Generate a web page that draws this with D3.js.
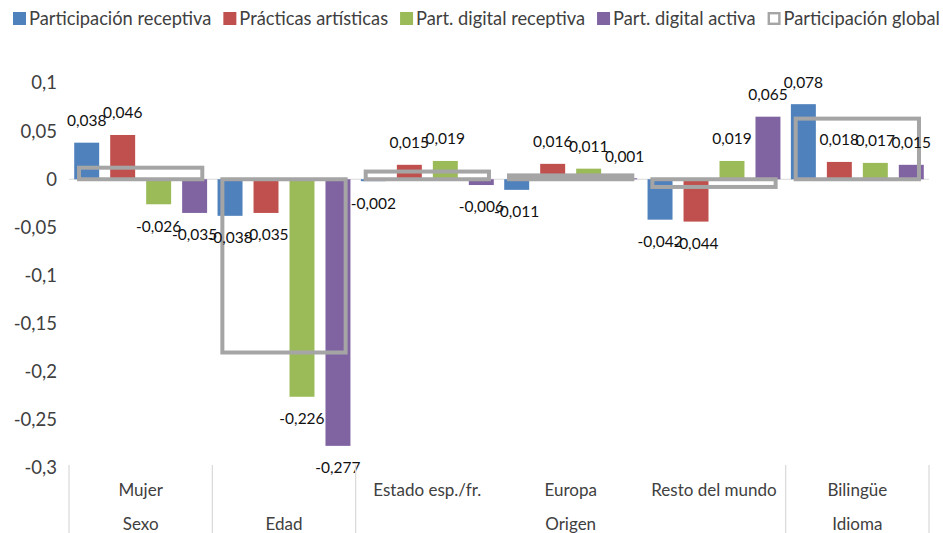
<!DOCTYPE html>
<html>
<head>
<meta charset="utf-8">
<script src="https://cdn.jsdelivr.net/npm/d3@7"></script>
<style>
  html, body { margin: 0; padding: 0; background: #fff; }
  svg { display: block; font-family: Lato, "Open Sans", sans-serif; }
</style>
</head>
<body>
<svg id="chart" width="943" height="533"></svg>
<script>
// ---- data ----
const categories = ["Mujer", "", "Estado esp./fr.", "Europa", "Resto del mundo", "Bilingüe"];
const groupNames = ["Sexo", "Edad", "Origen", "Idioma"];
const groupOf = ["Sexo", "Edad", "Origen", "Origen", "Origen", "Idioma"];
const seriesNames = ["Participación receptiva", "Prácticas artísticas", "Part. digital receptiva", "Part. digital activa"];
const globalName = "Participación global";
const partReceptiva = [0.038, -0.038, -0.002, -0.011, -0.042, 0.078];
const practicasArtisticas = [0.046, -0.035, 0.015, 0.016, -0.044, 0.018];
const digitalReceptiva = [-0.026, -0.226, 0.019, 0.011, 0.019, 0.017];
const digitalActiva = [-0.035, -0.277, -0.006, 0.001, 0.065, 0.015];
const participacionGlobal = [0.012, -0.180, 0.008, 0.004, -0.008, 0.063];
const yTicks = [0.1, 0.05, 0, -0.05, -0.1, -0.15, -0.2, -0.25, -0.3];

const seriesValues = [partReceptiva, practicasArtisticas, digitalReceptiva, digitalActiva];
const colors = ["#4F81BD", "#C0504D", "#9BBB59", "#8064A2"];
const globalColor = "#A5A5A5";

const locale = d3.formatLocale({decimal: ",", thousands: ".", grouping: [3], currency: ["", "€"], minus: "-"});
const fmtLabel = locale.format(".3f");
const fmtTick = locale.format("~");

const svg = d3.select("#chart");
const plotLeft = 69, plotRight = 929, plotTop = 83, plotBottom = 468;

const y = d3.scaleLinear().domain([-0.3, 0.1]).range([plotBottom, plotTop]);
const idx = categories.map((d, i) => i);
const x0 = d3.scaleBand().domain(idx).range([plotLeft, plotRight]).padding(0);
const x1 = d3.scaleBand().domain(d3.range(seriesNames.length)).range([0, x0.bandwidth()])
  .paddingInner(0.306).paddingOuter(0.145);
const xg = d3.scaleBand().domain(idx).range([plotLeft, plotRight]).paddingInner(0.14).paddingOuter(0.07);

// y tick labels
svg.append("g").selectAll("text").data(yTicks).join("text")
  .attr("x", 57).attr("y", d => y(d)).attr("dy", "0.35em")
  .attr("text-anchor", "end").attr("font-size", 18.5).attr("fill", "#404040")
  .text(d => fmtTick(d));

// zero line
svg.append("line").attr("x1", plotLeft).attr("x2", plotRight).attr("y1", y(0)).attr("y2", y(0))
  .attr("stroke", "#D9D9D9").attr("stroke-width", 1.2);

// bars
const barsG = svg.append("g");
seriesValues.forEach((vals, s) => {
  barsG.append("g").selectAll("rect").data(vals).join("rect")
    .attr("x", (d, i) => x0(i) + x1(s))
    .attr("width", x1.bandwidth())
    .attr("y", d => y(Math.max(0, d)))
    .attr("height", d => Math.max(1, Math.abs(y(d) - y(0))))
    .attr("fill", colors[s]);
});

// participación global (outlined bars)
svg.append("g").selectAll("rect").data(participacionGlobal).join("rect")
  .attr("x", (d, i) => xg(i))
  .attr("width", xg.bandwidth())
  .attr("y", d => y(Math.max(0, d)))
  .attr("height", d => Math.abs(y(d) - y(0)))
  .attr("fill", "none").attr("stroke", globalColor).attr("stroke-width", 4);

// data labels
const labG = svg.append("g");
seriesValues.forEach((vals, s) => {
  labG.append("g").selectAll("text").data(vals).join("text")
    .attr("x", (d, i) => x0(i) + x1(s) + x1.bandwidth() / 2)
    .attr("y", d => y(d) + (d >= 0 ? -22 : 22))
    .attr("dy", "0.35em")
    .attr("text-anchor", "middle").attr("font-size", 15.5).attr("fill", "#111")
    .text(d => fmtLabel(d));
});

// category axis (multi-level)
const axG = svg.append("g");
const groupSpans = groupNames.map(g => {
  const ii = idx.filter(i => groupOf[i] === g);
  return {name: g, x0: x0(ii[0]), x1: x0(ii[ii.length - 1]) + x0.bandwidth()};
});
const dividers = [plotLeft].concat(groupSpans.map(g => g.x1));
axG.selectAll("line").data(dividers).join("line")
  .attr("x1", d => d).attr("x2", d => d).attr("y1", plotBottom - 3).attr("y2", 533)
  .attr("stroke", "#D9D9D9").attr("stroke-width", 1.2);
axG.append("g").selectAll("text").data(categories).join("text")
  .attr("x", (d, i) => x0(i) + x0.bandwidth() / 2).attr("y", 496)
  .attr("text-anchor", "middle").attr("font-size", 17).attr("fill", "#404040")
  .text(d => d);
axG.append("g").selectAll("text").data(groupSpans).join("text")
  .attr("x", d => (d.x0 + d.x1) / 2).attr("y", 530)
  .attr("text-anchor", "middle").attr("font-size", 17).attr("fill", "#404040")
  .text(d => d.name);

// legend
const legG = svg.append("g");
let lx = 13;
const legItems = seriesNames.map((n, i) => ({name: n, color: colors[i], hollow: false}))
  .concat([{name: globalName, color: globalColor, hollow: true}]);
legItems.forEach(it => {
  if (it.hollow) {
    legG.append("rect").attr("x", lx + 1.2).attr("y", 13.2).attr("width", 10.6).attr("height", 10.6)
      .attr("fill", "#fff").attr("stroke", it.color).attr("stroke-width", 2.4);
  } else {
    legG.append("rect").attr("x", lx).attr("y", 12).attr("width", 13).attr("height", 13).attr("fill", it.color);
  }
  const t = legG.append("text").attr("x", lx + 16).attr("y", 25)
    .attr("font-size", 18.3).attr("fill", "#404040").text(it.name);
  lx = lx + 16 + t.node().getComputedTextLength() + 12;
});
</script>
</body>
</html>
